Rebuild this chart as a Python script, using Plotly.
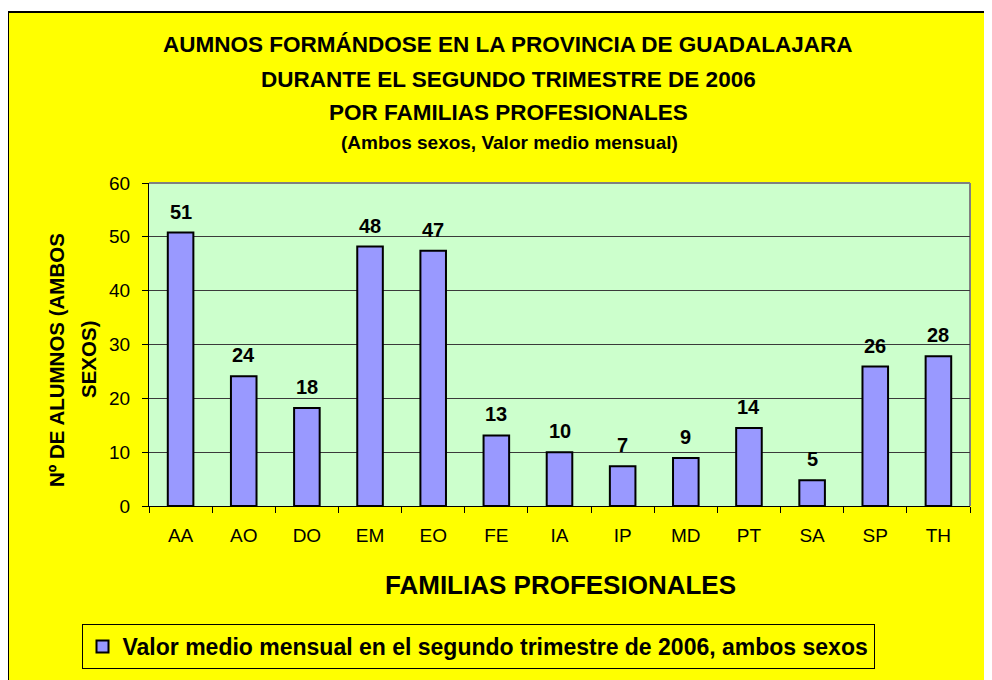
import plotly.graph_objects as go

categories = ["AA", "AO", "DO", "EM", "EO", "FE", "IA", "IP", "MD", "PT", "SA", "SP", "TH"]
values = [50.8, 24.1, 18.2, 48.2, 47.4, 13.1, 10.0, 7.4, 8.9, 14.5, 4.8, 25.9, 27.8]
series_name = "Valor medio mensual en el segundo trimestre de 2006, ambos sexos"
title_lines = [
    "AUMNOS FORMÁNDOSE EN LA PROVINCIA DE GUADALAJARA",
    "DURANTE EL SEGUNDO TRIMESTRE DE 2006",
    "POR FAMILIAS PROFESIONALES",
]
subtitle = "(Ambos sexos, Valor medio mensual)"
y_title_lines = ["Nº DE ALUMNOS (AMBOS", "SEXOS)"]
x_title = "FAMILIAS PROFESIONALES"
y_ticks = [0, 10, 20, 30, 40, 50, 60]

OFF = 8  # page body margin
W, H = 992 - OFF, 680 - OFF
L, T = 149 - OFF, 183 - OFF
R = W - (970 - OFF)
B = H - (506 - OFF)
pw, ph = W - L - R, H - T - B

def px(x):
    """page x -> paper x"""
    return (x - OFF - L) / pw

def py(y):
    """page y -> paper y"""
    return (H - B - (y - OFF)) / ph

FONT = "Liberation Sans, Arial, sans-serif"

fig = go.Figure()
fig.add_trace(go.Bar(
    x=categories, y=values, name=series_name,
    marker=dict(color="#9999FF", line=dict(color="black", width=2)),
    showlegend=True,
))

annotations = []
for c, v in zip(categories, values):
    annotations.append(dict(x=c, y=v, xref="x", yref="y", text=f"{v:.0f}", showarrow=False,
                            yanchor="bottom", yshift=8,
                            font=dict(family=FONT, size=20, color="black", weight="bold")))

title_y = [45, 79, 113]
for t, yy in zip(title_lines, title_y):
    annotations.append(dict(x=px(508), y=py(yy), xref="paper", yref="paper", text=t, showarrow=False,
                            xanchor="center", yanchor="middle",
                            font=dict(family=FONT, size=22.5, color="black", weight="bold")))
annotations.append(dict(x=px(509), y=py(143), xref="paper", yref="paper", text=subtitle, showarrow=False,
                        xanchor="center", yanchor="middle",
                        font=dict(family=FONT, size=19, color="black", weight="bold")))
annotations.append(dict(x=px(56), y=py(360), xref="paper", yref="paper", text=y_title_lines[0], showarrow=False,
                        textangle=-90, xanchor="center", yanchor="middle",
                        font=dict(family=FONT, size=20.5, color="black", weight="bold")))
annotations.append(dict(x=px(88), y=py(360), xref="paper", yref="paper", text=y_title_lines[1], showarrow=False,
                        textangle=-90, xanchor="center", yanchor="middle",
                        font=dict(family=FONT, size=20.5, color="black", weight="bold")))
annotations.append(dict(x=px(560), y=py(585), xref="paper", yref="paper", text=x_title, showarrow=False,
                        xanchor="center", yanchor="middle",
                        font=dict(family=FONT, size=26, color="black", weight="bold")))

shapes = [
    # white page strip above the chart frame and its black edges
    dict(type="rect", xref="paper", yref="paper", x0=px(-50), x1=px(1100), y0=py(12), y1=py(-50),
         fillcolor="white", line=dict(width=0), layer="above"),
    dict(type="line", xref="paper", yref="paper", x0=px(7), x1=px(1100), y0=py(12), y1=py(12),
         line=dict(color="black", width=2), layer="above"),
    dict(type="line", xref="paper", yref="paper", x0=px(8), x1=px(8), y0=py(12), y1=py(800),
         line=dict(color="black", width=2), layer="above"),
    # plot area frame (grey top/right)
    dict(type="line", xref="paper", yref="paper", x0=0, x1=1, y0=1, y1=1,
         line=dict(color="#808080", width=2), layer="below"),
    dict(type="line", xref="paper", yref="paper", x0=1, x1=1, y0=0, y1=1,
         line=dict(color="#808080", width=2), layer="below"),
]

fig.update_layout(
    width=W, height=H,
    margin=dict(l=L, r=R, t=T, b=B, autoexpand=False),
    paper_bgcolor="#FFFF00",
    plot_bgcolor="#CCFFCC",
    bargap=0.595,
    font=dict(family=FONT, color="black"),
    annotations=annotations,
    shapes=shapes,
    legend=dict(
        orientation="h", x=px(478), xanchor="center", y=py(624), yanchor="top",
        bgcolor="#FFFF00", bordercolor="black", borderwidth=1,
        font=dict(family=FONT, size=23, color="black", weight="bold"),
        itemsizing="constant",
    ),
    xaxis=dict(
        showline=True, linecolor="black", linewidth=1,
        ticks="outside", ticklen=6, tickcolor="black", tickson="boundaries",
        tickfont=dict(family=FONT, size=19, color="black"),
        ticklabelstandoff=12, showgrid=False,
    ),
    yaxis=dict(
        range=[0, 60], tickvals=y_ticks,
        showline=True, linecolor="black", linewidth=1,
        ticks="outside", ticklen=6, tickcolor="black",
        tickfont=dict(family=FONT, size=19, color="black"),
        ticklabelstandoff=8,
        showgrid=True, gridcolor="#3a3a3a", gridwidth=1,
        zeroline=False,
    ),
)

fig.write_html("out.html")
